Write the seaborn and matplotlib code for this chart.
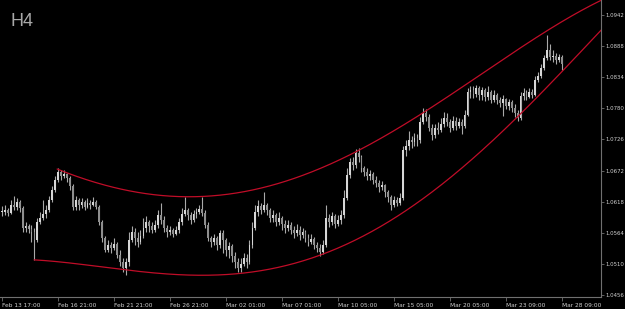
import numpy as np
import pandas as pd
import matplotlib
matplotlib.use("Agg")
import matplotlib.pyplot as plt
import seaborn as sns

# ---------------- data (EURUSD H4) ----------------
first_open = 1.0600

close = [1.0600, 1.0603, 1.0598, 1.0612, 1.0609, 1.0617, 1.0607, 1.0572, 1.0576, 1.0570,
         1.0565, 1.0551, 1.0583, 1.0590, 1.0597, 1.0603, 1.0621, 1.0638, 1.0656, 1.0669,
         1.0662, 1.0666, 1.0659, 1.0645, 1.0609, 1.0621, 1.0612, 1.0617, 1.0609, 1.0616,
         1.0612, 1.0617, 1.0609, 1.0583, 1.0555, 1.0534, 1.0543, 1.0537, 1.0544, 1.0525,
         1.0513, 1.0503, 1.0513, 1.0551, 1.0565, 1.0555, 1.0548, 1.0558, 1.0572, 1.0583,
         1.0576, 1.0569, 1.0577, 1.0595, 1.0586, 1.0572, 1.0565, 1.0569, 1.0562, 1.0569,
         1.0583, 1.0597, 1.0603, 1.0595, 1.0586, 1.0597, 1.0600, 1.0605, 1.0598, 1.0577,
         1.0555, 1.0548, 1.0555, 1.0543, 1.0564, 1.0551, 1.0534, 1.0541, 1.0524, 1.0513,
         1.0503, 1.0510, 1.0520, 1.0513, 1.0543, 1.0572, 1.0600, 1.0610, 1.0603, 1.0612,
         1.0603, 1.0590, 1.0595, 1.0583, 1.0590, 1.0579, 1.0572, 1.0577, 1.0569, 1.0564,
         1.0569, 1.0560, 1.0565, 1.0555, 1.0548, 1.0553, 1.0543, 1.0537, 1.0531, 1.0543,
         1.0590, 1.0583, 1.0593, 1.0579, 1.0586, 1.0595, 1.0624, 1.0664, 1.0687, 1.0682,
         1.0702, 1.0695, 1.0676, 1.0669, 1.0662, 1.0666, 1.0656, 1.0650, 1.0643, 1.0647,
         1.0635, 1.0626, 1.0612, 1.0621, 1.0616, 1.0624, 1.0708, 1.0715, 1.0725, 1.0721,
         1.0728, 1.0725, 1.0756, 1.0772, 1.0765, 1.0746, 1.0734, 1.0746, 1.0742, 1.0753,
         1.0763, 1.0756, 1.0746, 1.0758, 1.0749, 1.0756, 1.0749, 1.0768, 1.0808, 1.0812,
         1.0805, 1.0815, 1.0803, 1.0812, 1.0800, 1.0808, 1.0794, 1.0803, 1.0794, 1.0789,
         1.0796, 1.0784, 1.0791, 1.0781, 1.0772, 1.0763, 1.0801, 1.0807, 1.0800, 1.0808,
         1.0803, 1.0829, 1.0836, 1.0850, 1.0867, 1.0881, 1.0869, 1.0871, 1.0864, 1.0869,
         1.0857]

high = [1.0610, 1.0612, 1.0607, 1.0621, 1.0628, 1.0624, 1.0621, 1.0610, 1.0583, 1.0579,
        1.0577, 1.0572, 1.0590, 1.0600, 1.0621, 1.0612, 1.0628, 1.0645, 1.0662, 1.0676,
        1.0673, 1.0673, 1.0668, 1.0662, 1.0649, 1.0628, 1.0624, 1.0624, 1.0621, 1.0624,
        1.0621, 1.0626, 1.0621, 1.0612, 1.0586, 1.0558, 1.0551, 1.0548, 1.0555, 1.0548,
        1.0534, 1.0520, 1.0520, 1.0565, 1.0576, 1.0572, 1.0565, 1.0569, 1.0590, 1.0593,
        1.0586, 1.0583, 1.0586, 1.0603, 1.0616, 1.0593, 1.0577, 1.0576, 1.0572, 1.0576,
        1.0590, 1.0607, 1.0626, 1.0607, 1.0600, 1.0603, 1.0607, 1.0612, 1.0626, 1.0603,
        1.0583, 1.0558, 1.0562, 1.0558, 1.0569, 1.0569, 1.0555, 1.0548, 1.0544, 1.0531,
        1.0520, 1.0520, 1.0529, 1.0527, 1.0551, 1.0583, 1.0612, 1.0621, 1.0616, 1.0635,
        1.0616, 1.0607, 1.0603, 1.0598, 1.0600, 1.0593, 1.0586, 1.0586, 1.0583, 1.0576,
        1.0579, 1.0576, 1.0572, 1.0569, 1.0562, 1.0562, 1.0557, 1.0548, 1.0544, 1.0551,
        1.0612, 1.0597, 1.0600, 1.0597, 1.0595, 1.0603, 1.0638, 1.0676, 1.0694, 1.0695,
        1.0709, 1.0711, 1.0699, 1.0680, 1.0676, 1.0673, 1.0669, 1.0662, 1.0656, 1.0654,
        1.0649, 1.0638, 1.0629, 1.0628, 1.0626, 1.0633, 1.0715, 1.0725, 1.0741, 1.0732,
        1.0737, 1.0735, 1.0765, 1.0781, 1.0779, 1.0770, 1.0753, 1.0753, 1.0756, 1.0763,
        1.0774, 1.0772, 1.0761, 1.0766, 1.0765, 1.0763, 1.0761, 1.0777, 1.0815, 1.0819,
        1.0819, 1.0820, 1.0819, 1.0817, 1.0815, 1.0819, 1.0812, 1.0812, 1.0807, 1.0800,
        1.0803, 1.0798, 1.0796, 1.0794, 1.0787, 1.0777, 1.0808, 1.0815, 1.0812, 1.0815,
        1.0813, 1.0836, 1.0843, 1.0857, 1.0873, 1.0907, 1.0892, 1.0881, 1.0876, 1.0874,
        1.0873]

low = [1.0593, 1.0595, 1.0593, 1.0597, 1.0603, 1.0603, 1.0600, 1.0565, 1.0565, 1.0564,
       1.0548, 1.0517, 1.0548, 1.0579, 1.0586, 1.0590, 1.0600, 1.0617, 1.0635, 1.0652,
       1.0656, 1.0659, 1.0652, 1.0638, 1.0603, 1.0603, 1.0603, 1.0607, 1.0603, 1.0607,
       1.0605, 1.0610, 1.0605, 1.0577, 1.0548, 1.0531, 1.0531, 1.0529, 1.0534, 1.0520,
       1.0506, 1.0496, 1.0491, 1.0506, 1.0548, 1.0543, 1.0539, 1.0544, 1.0555, 1.0565,
       1.0565, 1.0564, 1.0565, 1.0572, 1.0579, 1.0565, 1.0557, 1.0560, 1.0557, 1.0560,
       1.0564, 1.0577, 1.0593, 1.0586, 1.0579, 1.0583, 1.0590, 1.0597, 1.0593, 1.0572,
       1.0550, 1.0539, 1.0543, 1.0534, 1.0537, 1.0529, 1.0524, 1.0520, 1.0513, 1.0503,
       1.0496, 1.0496, 1.0506, 1.0503, 1.0510, 1.0537, 1.0569, 1.0593, 1.0597, 1.0600,
       1.0595, 1.0583, 1.0583, 1.0576, 1.0577, 1.0569, 1.0564, 1.0567, 1.0562, 1.0555,
       1.0558, 1.0551, 1.0555, 1.0548, 1.0541, 1.0544, 1.0536, 1.0531, 1.0524, 1.0527,
       1.0539, 1.0574, 1.0577, 1.0572, 1.0576, 1.0579, 1.0590, 1.0621, 1.0659, 1.0673,
       1.0676, 1.0687, 1.0669, 1.0662, 1.0656, 1.0656, 1.0649, 1.0643, 1.0635, 1.0638,
       1.0626, 1.0617, 1.0603, 1.0609, 1.0610, 1.0612, 1.0621, 1.0697, 1.0708, 1.0711,
       1.0715, 1.0715, 1.0720, 1.0753, 1.0758, 1.0741, 1.0725, 1.0728, 1.0735, 1.0739,
       1.0748, 1.0749, 1.0739, 1.0742, 1.0742, 1.0746, 1.0735, 1.0746, 1.0766, 1.0798,
       1.0798, 1.0800, 1.0794, 1.0794, 1.0793, 1.0794, 1.0789, 1.0791, 1.0787, 1.0782,
       1.0766, 1.0779, 1.0777, 1.0774, 1.0765, 1.0758, 1.0760, 1.0794, 1.0794, 1.0798,
       1.0798, 1.0801, 1.0826, 1.0833, 1.0846, 1.0864, 1.0864, 1.0860, 1.0857, 1.0860,
       1.0846]

# channel curves: anchor points (bar index, price)
upper_bar = [18.7, 33.3, 50.2, 62.1, 82.5, 99.4, 120.5, 128.3, 148.6, 159.8, 169.0, 189.3, 197.8]
upper_px = [1.0673, 1.0650, 1.0635, 1.0627, 1.0629, 1.0657, 1.0706, 1.0734, 1.0791, 1.0829, 1.0859, 1.0925, 1.0956]
lower_bar = [10.9, 33.3, 50.2, 67.2, 79.1, 101.1, 107.9, 118.1, 135.1, 148.6, 162.2, 174.8, 187.0, 197.8, 203.3]
lower_px = [1.0517, 1.0505, 1.0494, 1.0492, 1.0494, 1.0510, 1.0525, 1.0546, 1.0598, 1.0647, 1.0704, 1.0761, 1.0829, 1.0885, 1.0916]

y_ticks = [1.0942, 1.0888, 1.0834, 1.0780, 1.0726, 1.0672, 1.0618, 1.0564, 1.0510, 1.0456]
x_tick_bars = [0, 19, 38, 57, 76, 95, 114, 133, 152, 171, 190]
x_tick_labels = ["Feb 13 17:00", "Feb 16 21:00", "Feb 21 21:00", "Feb 26 21:00", "Mar 02 01:00",
                 "Mar 07 01:00", "Mar 10 05:00", "Mar 15 05:00", "Mar 20 05:00", "Mar 23 09:00",
                 "Mar 28 09:00"]
timeframe = "H4"

# ---------------- styling ----------------
sns.set_theme(style="dark", rc={"axes.facecolor": "black", "figure.facecolor": "black"})
plt.rcParams['font.family'] = ['DejaVu Sans']

W, H = 625, 309
fig = plt.figure(figsize=(W / 100, H / 100), dpi=100)
fig.patch.set_facecolor('black')
ax = fig.add_axes([0, 12 / H, 601 / W, 297 / H])
ax.set_facecolor('black')
ax.grid(False)

n = len(close)
df = pd.DataFrame({
    "bar": np.arange(n),
    "open": np.r_[first_open, close[:-1]],
    "high": high,
    "low": low,
    "close": close,
})
df["high"] = df[["high", "open", "close"]].max(axis=1)
df["low"] = df[["low", "open", "close"]].min(axis=1)
up = df["close"] >= df["open"]

ax.vlines(df["bar"], df["low"], df["high"], color="#a9a9a9", lw=0.8, zorder=2)
bottom = np.minimum(df["open"], df["close"])
height = np.maximum((df["close"] - df["open"]).abs(), 0.00014)
ax.bar(df["bar"][up], height[up], bottom=bottom[up], width=0.62,
       color="#d6d6d6", linewidth=0, zorder=3)
ax.bar(df["bar"][~up], height[~up], bottom=bottom[~up], width=0.62,
       color="#8e8e8e", linewidth=0, zorder=3)

# regression-style channel lines through the anchor points
cu = np.polyfit(upper_bar, upper_px, 4)
xu = np.linspace(upper_bar[0], 204, 400)
cl = np.polyfit(lower_bar, lower_px, 4)
xl = np.linspace(lower_bar[0], 204, 400)
curves = pd.concat([
    pd.DataFrame({"bar": xu, "price": np.polyval(cu, xu), "line": "upper"}),
    pd.DataFrame({"bar": xl, "price": np.polyval(cl, xl), "line": "lower"}),
])
sns.lineplot(data=curves, x="bar", y="price", units="line", estimator=None,
             color="#c00d28", lw=0.9, ax=ax, zorder=4, legend=False, sort=False)

ax.set_xlim(-0.68, 203.3)
ax.set_ylim(1.04525, 1.0968)
ax.set_xlabel("")
ax.set_ylabel("")

for s in ["top", "left"]:
    ax.spines[s].set_visible(False)
for s in ["right", "bottom"]:
    ax.spines[s].set_visible(True)
    ax.spines[s].set_color("#707070")
    ax.spines[s].set_linewidth(0.8)

ax.yaxis.tick_right()
ax.set_yticks(y_ticks)
ax.set_yticklabels([f"{v:.4f}" for v in y_ticks])
ax.set_xticks(x_tick_bars)
ax.set_xticklabels(x_tick_labels, ha="left")
ax.tick_params(axis="both", direction="out", length=3, width=0.6, color="#707070",
               labelcolor="#d0d0d0")
ax.tick_params(axis="x", bottom=True, top=False, labelbottom=True, labelsize=4.2, pad=1.2)
ax.tick_params(axis="y", right=True, left=False, labelright=True, labelleft=False,
               labelsize=3.9, pad=0.6, length=2.5)

fig.text(11 / W, 1 - 26 / H, timeframe, color="#a8a8a8", fontsize=13,
         family=["Liberation Sans", "DejaVu Sans"], ha="left", va="baseline")

fig.savefig("out.png", dpi=100, facecolor="black")
